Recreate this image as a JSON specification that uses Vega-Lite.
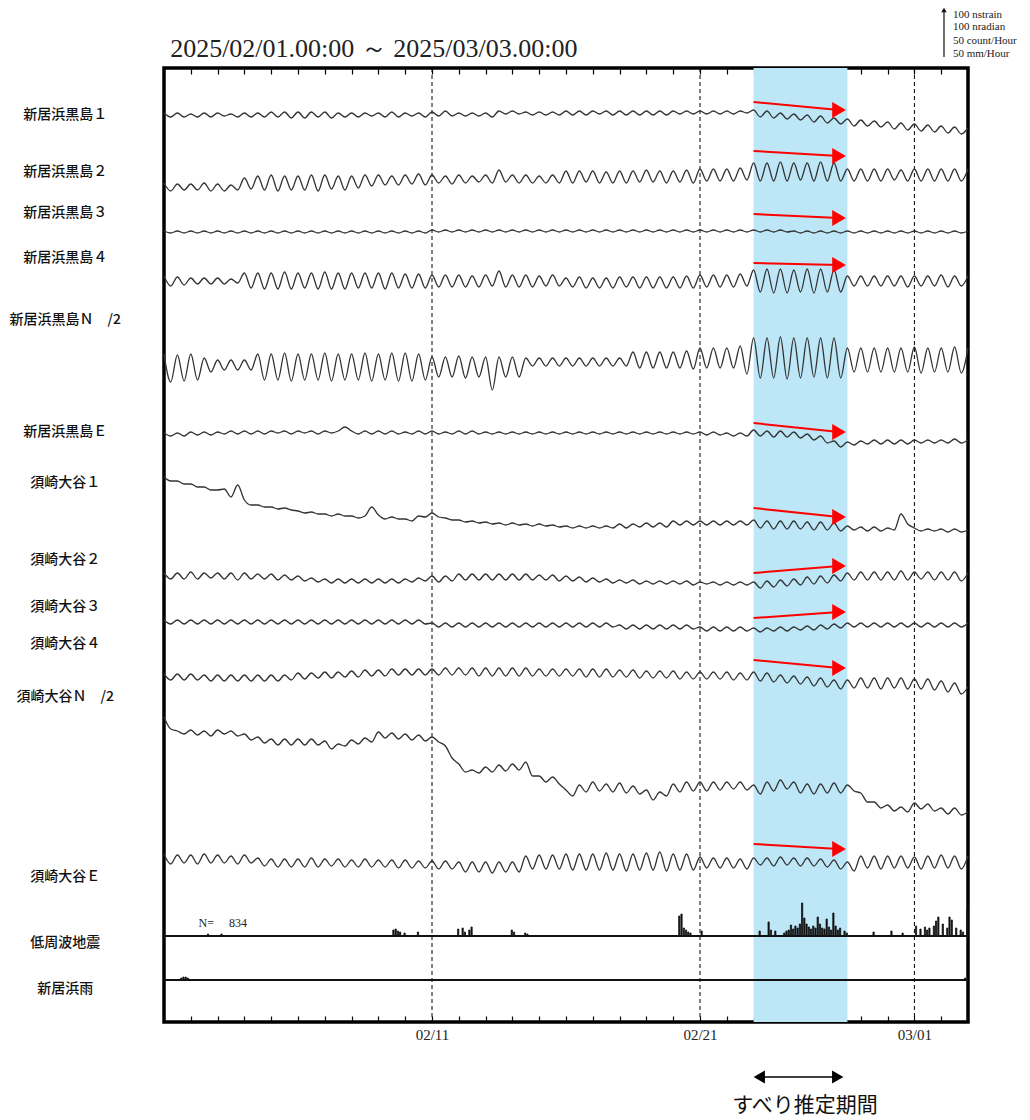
{
"$schema":"https://vega.github.io/schema/vega-lite/v6.json",
"autosize":{"type":"none"},
"padding":{"left":164,"top":68,"right":62,"bottom":98},
"width":804,"height":954,
"background":"white",
"config":{"view":{"stroke":"black","strokeWidth":3.5},"axis":{"grid":false,"domain":false}},
"datasets":{
"series":[
{"t":"2025-02-01T00:00","a":909,"b":839,"c":791,"d":746,"e":668,"f":589,"g":545,"h":449,"i":402,"j":348,"k":305,"l":168},
{"t":"2025-02-01T06:00","a":905,"b":831,"c":789,"d":736,"e":640,"f":586,"g":541,"h":443,"i":398,"j":342,"k":293,"l":158},
{"t":"2025-02-01T12:00","a":909,"b":838,"c":791,"d":745,"e":667,"f":589,"g":541,"h":449,"i":402,"j":348,"k":291,"l":167},
{"t":"2025-02-01T18:00","a":905,"b":832,"c":789,"d":737,"e":641,"f":586,"g":538,"h":443,"i":398,"j":342,"k":288,"l":159},
{"t":"2025-02-02T00:00","a":908,"b":838,"c":791,"d":744,"e":668,"f":590,"g":538,"h":450,"i":402,"j":348,"k":292,"l":167},
{"t":"2025-02-02T06:00","a":905,"b":832,"c":789,"d":738,"e":642,"f":587,"g":535,"h":443,"i":398,"j":342,"k":287,"l":158},
{"t":"2025-02-02T12:00","a":909,"b":839,"c":791,"d":744,"e":664,"f":590,"g":535,"h":449,"i":402,"j":347,"k":291,"l":168},
{"t":"2025-02-02T18:00","a":905,"b":831,"c":789,"d":738,"e":650,"f":587,"g":532,"h":444,"i":398,"j":341,"k":286,"l":159},
{"t":"2025-02-03T00:00","a":909,"b":838,"c":791,"d":744,"e":662,"f":590,"g":532,"h":449,"i":402,"j":347,"k":292,"l":167},
{"t":"2025-02-03T06:00","a":906,"b":831,"c":789,"d":738,"e":652,"f":588,"g":533,"h":443,"i":398,"j":341,"k":288,"l":159},
{"t":"2025-02-03T12:00","a":908,"b":837,"c":791,"d":743,"e":662,"f":591,"g":525,"h":449,"i":402,"j":347,"k":291,"l":166},
{"t":"2025-02-03T18:00","a":905,"b":832,"c":789,"d":739,"e":652,"f":588,"g":537,"h":442,"i":398,"j":341,"k":286,"l":158},
{"t":"2025-02-04T00:00","a":909,"b":844,"c":791,"d":749,"e":662,"f":591,"g":522,"h":449,"i":402,"j":347,"k":288,"l":167},
{"t":"2025-02-04T06:00","a":905,"b":833,"c":789,"d":734,"e":652,"f":588,"g":517,"h":443,"i":398,"j":341,"k":282,"l":159},
{"t":"2025-02-04T12:00","a":909,"b":846,"c":791,"d":749,"e":668,"f":591,"g":517,"h":448,"i":402,"j":347,"k":285,"l":164},
{"t":"2025-02-04T18:00","a":905,"b":832,"c":789,"d":733,"e":642,"f":588,"g":515,"h":443,"i":398,"j":341,"k":279,"l":156},
{"t":"2025-02-05T00:00","a":910,"b":847,"c":791,"d":749,"e":668,"f":591,"g":515,"h":448,"i":402,"j":347,"k":283,"l":163},
{"t":"2025-02-05T06:00","a":905,"b":831,"c":789,"d":733,"e":642,"f":589,"g":513,"h":442,"i":398,"j":341,"k":277,"l":155},
{"t":"2025-02-05T12:00","a":910,"b":846,"c":791,"d":750,"e":669,"f":591,"g":514,"h":447,"i":402,"j":347,"k":283,"l":163},
{"t":"2025-02-05T18:00","a":904,"b":832,"c":789,"d":733,"e":641,"f":588,"g":512,"h":442,"i":398,"j":342,"k":277,"l":155},
{"t":"2025-02-06T00:00","a":910,"b":846,"c":791,"d":749,"e":668,"f":591,"g":511,"h":446,"i":402,"j":349,"k":283,"l":163},
{"t":"2025-02-06T06:00","a":904,"b":832,"c":789,"d":734,"e":642,"f":589,"g":509,"h":441,"i":398,"j":343,"k":277,"l":155},
{"t":"2025-02-06T12:00","a":910,"b":847,"c":791,"d":749,"e":668,"f":591,"g":510,"h":444,"i":402,"j":349,"k":283,"l":164},
{"t":"2025-02-06T18:00","a":905,"b":831,"c":789,"d":733,"e":642,"f":588,"g":508,"h":440,"i":398,"j":344,"k":277,"l":155},
{"t":"2025-02-07T00:00","a":910,"b":847,"c":791,"d":750,"e":669,"f":591,"g":508,"h":443,"i":402,"j":350,"k":281,"l":163},
{"t":"2025-02-07T06:00","a":904,"b":833,"c":789,"d":733,"e":641,"f":589,"g":506,"h":439,"i":398,"j":344,"k":273,"l":156},
{"t":"2025-02-07T12:00","a":909,"b":846,"c":791,"d":749,"e":668,"f":591,"g":508,"h":443,"i":402,"j":350,"k":278,"l":163},
{"t":"2025-02-07T18:00","a":905,"b":832,"c":789,"d":733,"e":642,"f":595,"g":506,"h":439,"i":398,"j":345,"k":276,"l":155},
{"t":"2025-02-08T00:00","a":909,"b":846,"c":791,"d":749,"e":668,"f":591,"g":506,"h":443,"i":402,"j":351,"k":282,"l":162},
{"t":"2025-02-08T06:00","a":905,"b":834,"c":789,"d":734,"e":642,"f":588,"g":504,"h":439,"i":398,"j":345,"k":278,"l":155},
{"t":"2025-02-08T12:00","a":909,"b":847,"c":791,"d":749,"e":669,"f":591,"g":506,"h":443,"i":402,"j":352,"k":284,"l":163},
{"t":"2025-02-08T18:00","a":906,"b":836,"c":789,"d":734,"e":641,"f":588,"g":515,"h":439,"i":398,"j":346,"k":280,"l":155},
{"t":"2025-02-09T00:00","a":909,"b":847,"c":791,"d":749,"e":668,"f":591,"g":507,"h":443,"i":402,"j":352,"k":290,"l":162},
{"t":"2025-02-09T06:00","a":905,"b":837,"c":789,"d":733,"e":642,"f":588,"g":503,"h":439,"i":398,"j":346,"k":284,"l":155},
{"t":"2025-02-09T12:00","a":910,"b":846,"c":791,"d":749,"e":669,"f":591,"g":505,"h":443,"i":402,"j":353,"k":289,"l":162},
{"t":"2025-02-09T18:00","a":905,"b":837,"c":789,"d":734,"e":641,"f":588,"g":503,"h":439,"i":398,"j":347,"k":283,"l":154},
{"t":"2025-02-10T00:00","a":909,"b":847,"c":791,"d":748,"e":669,"f":590,"g":503,"h":443,"i":402,"j":353,"k":288,"l":162},
{"t":"2025-02-10T06:00","a":906,"b":838,"c":789,"d":734,"e":641,"f":588,"g":501,"h":440,"i":398,"j":347,"k":282,"l":154},
{"t":"2025-02-10T12:00","a":909,"b":848,"c":791,"d":748,"e":668,"f":591,"g":506,"h":444,"i":402,"j":353,"k":287,"l":161},
{"t":"2025-02-10T18:00","a":905,"b":837,"c":789,"d":734,"e":642,"f":588,"g":505,"h":441,"i":398,"j":347,"k":281,"l":154},
{"t":"2025-02-11T00:00","a":910,"b":847,"c":792,"d":747,"e":665,"f":591,"g":509,"h":446,"i":399,"j":353,"k":285,"l":161},
{"t":"2025-02-11T06:00","a":906,"b":839,"c":790,"d":735,"e":645,"f":588,"g":505,"h":440,"i":395,"j":347,"k":280,"l":153},
{"t":"2025-02-11T12:00","a":911,"b":846,"c":792,"d":747,"e":665,"f":590,"g":504,"h":446,"i":399,"j":354,"k":276,"l":161},
{"t":"2025-02-11T18:00","a":906,"b":838,"c":790,"d":735,"e":645,"f":588,"g":502,"h":441,"i":395,"j":347,"k":264,"l":153},
{"t":"2025-02-12T00:00","a":909,"b":847,"c":792,"d":747,"e":666,"f":591,"g":502,"h":448,"i":399,"j":354,"k":258,"l":160},
{"t":"2025-02-12T06:00","a":906,"b":839,"c":790,"d":735,"e":644,"f":588,"g":500,"h":442,"i":395,"j":347,"k":250,"l":150},
{"t":"2025-02-12T12:00","a":909,"b":846,"c":792,"d":746,"e":665,"f":591,"g":501,"h":448,"i":399,"j":354,"k":252,"l":160},
{"t":"2025-02-12T18:00","a":906,"b":840,"c":790,"d":735,"e":645,"f":588,"g":499,"h":442,"i":395,"j":346,"k":249,"l":150},
{"t":"2025-02-13T00:00","a":909,"b":847,"c":792,"d":747,"e":665,"f":590,"g":500,"h":448,"i":399,"j":354,"k":255,"l":160},
{"t":"2025-02-13T06:00","a":905,"b":839,"c":790,"d":736,"e":632,"f":588,"g":498,"h":442,"i":395,"j":346,"k":250,"l":149},
{"t":"2025-02-13T12:00","a":911,"b":852,"c":792,"d":751,"e":665,"f":590,"g":499,"h":448,"i":399,"j":354,"k":257,"l":160},
{"t":"2025-02-13T18:00","a":908,"b":840,"c":790,"d":735,"e":645,"f":588,"g":497,"h":442,"i":395,"j":346,"k":251,"l":150},
{"t":"2025-02-14T00:00","a":911,"b":847,"c":792,"d":747,"e":665,"f":590,"g":499,"h":448,"i":399,"j":354,"k":258,"l":160},
{"t":"2025-02-14T06:00","a":908,"b":839,"c":790,"d":735,"e":645,"f":588,"g":497,"h":442,"i":395,"j":346,"k":252,"l":150},
{"t":"2025-02-14T12:00","a":910,"b":847,"c":792,"d":747,"e":664,"f":590,"g":498,"h":448,"i":399,"j":354,"k":260,"l":166},
{"t":"2025-02-14T18:00","a":907,"b":839,"c":790,"d":735,"e":656,"f":588,"g":496,"h":442,"i":395,"j":346,"k":246,"l":153},
{"t":"2025-02-15T00:00","a":910,"b":846,"c":792,"d":746,"e":664,"f":590,"g":498,"h":447,"i":399,"j":353,"k":246,"l":167},
{"t":"2025-02-15T06:00","a":907,"b":839,"c":790,"d":736,"e":656,"f":588,"g":496,"h":442,"i":395,"j":346,"k":240,"l":153},
{"t":"2025-02-15T12:00","a":910,"b":847,"c":792,"d":747,"e":664,"f":590,"g":497,"h":447,"i":399,"j":353,"k":245,"l":167},
{"t":"2025-02-15T18:00","a":907,"b":839,"c":790,"d":736,"e":656,"f":588,"g":495,"h":441,"i":395,"j":346,"k":238,"l":153},
{"t":"2025-02-16T00:00","a":911,"b":851,"c":792,"d":744,"e":664,"f":590,"g":496,"h":446,"i":399,"j":353,"k":232,"l":168},
{"t":"2025-02-16T06:00","a":907,"b":839,"c":790,"d":735,"e":656,"f":588,"g":494,"h":441,"i":395,"j":346,"k":226,"l":152},
{"t":"2025-02-16T12:00","a":911,"b":851,"c":792,"d":745,"e":664,"f":590,"g":496,"h":445,"i":399,"j":353,"k":237,"l":168},
{"t":"2025-02-16T18:00","a":907,"b":840,"c":790,"d":734,"e":656,"f":588,"g":494,"h":440,"i":395,"j":345,"k":230,"l":152},
{"t":"2025-02-17T00:00","a":911,"b":851,"c":792,"d":744,"e":664,"f":590,"g":496,"h":444,"i":399,"j":353,"k":240,"l":168},
{"t":"2025-02-17T06:00","a":908,"b":839,"c":790,"d":734,"e":656,"f":588,"g":494,"h":440,"i":395,"j":345,"k":231,"l":152},
{"t":"2025-02-17T12:00","a":911,"b":850,"c":792,"d":744,"e":664,"f":590,"g":496,"h":443,"i":399,"j":353,"k":238,"l":169},
{"t":"2025-02-17T18:00","a":907,"b":839,"c":790,"d":734,"e":656,"f":588,"g":494,"h":439,"i":395,"j":345,"k":230,"l":152},
{"t":"2025-02-18T00:00","a":911,"b":851,"c":792,"d":745,"e":664,"f":590,"g":498,"h":442,"i":397,"j":352,"k":239,"l":168},
{"t":"2025-02-18T06:00","a":907,"b":839,"c":790,"d":735,"e":656,"f":588,"g":494,"h":439,"i":393,"j":345,"k":229,"l":151},
{"t":"2025-02-18T12:00","a":911,"b":851,"c":792,"d":745,"e":670,"f":590,"g":498,"h":442,"i":397,"j":352,"k":236,"l":168},
{"t":"2025-02-18T18:00","a":907,"b":840,"c":790,"d":734,"e":654,"f":588,"g":495,"h":438,"i":393,"j":344,"k":228,"l":152},
{"t":"2025-02-19T00:00","a":911,"b":852,"c":792,"d":745,"e":670,"f":590,"g":499,"h":441,"i":397,"j":351,"k":232,"l":169},
{"t":"2025-02-19T06:00","a":907,"b":840,"c":790,"d":734,"e":654,"f":588,"g":495,"h":438,"i":393,"j":344,"k":222,"l":152},
{"t":"2025-02-19T12:00","a":911,"b":851,"c":792,"d":745,"e":670,"f":590,"g":499,"h":441,"i":397,"j":351,"k":230,"l":170},
{"t":"2025-02-19T18:00","a":907,"b":839,"c":790,"d":734,"e":654,"f":588,"g":495,"h":438,"i":393,"j":344,"k":226,"l":151},
{"t":"2025-02-20T00:00","a":911,"b":851,"c":792,"d":745,"e":670,"f":590,"g":501,"h":441,"i":397,"j":351,"k":238,"l":168},
{"t":"2025-02-20T06:00","a":908,"b":840,"c":790,"d":734,"e":654,"f":588,"g":497,"h":438,"i":393,"j":343,"k":230,"l":152},
{"t":"2025-02-20T12:00","a":911,"b":852,"c":792,"d":746,"e":671,"f":590,"g":501,"h":441,"i":397,"j":350,"k":240,"l":168},
{"t":"2025-02-20T18:00","a":908,"b":839,"c":790,"d":734,"e":653,"f":588,"g":497,"h":437,"i":393,"j":343,"k":231,"l":152},
{"t":"2025-02-21T00:00","a":911,"b":853,"c":792,"d":747,"e":674,"f":590,"g":501,"h":440,"i":395,"j":350,"k":240,"l":165},
{"t":"2025-02-21T06:00","a":908,"b":841,"c":790,"d":735,"e":654,"f":587,"g":497,"h":438,"i":391,"j":343,"k":231,"l":154},
{"t":"2025-02-21T12:00","a":911,"b":853,"c":792,"d":747,"e":674,"f":590,"g":501,"h":440,"i":395,"j":350,"k":240,"l":164},
{"t":"2025-02-21T18:00","a":908,"b":841,"c":790,"d":735,"e":654,"f":587,"g":497,"h":437,"i":391,"j":343,"k":232,"l":154},
{"t":"2025-02-22T00:00","a":911,"b":853,"c":792,"d":747,"e":674,"f":589,"g":501,"h":440,"i":395,"j":350,"k":240,"l":164},
{"t":"2025-02-22T06:00","a":908,"b":841,"c":790,"d":735,"e":654,"f":586,"g":497,"h":437,"i":391,"j":342,"k":233,"l":154},
{"t":"2025-02-22T12:00","a":911,"b":854,"c":792,"d":748,"e":676,"f":589,"g":501,"h":440,"i":395,"j":349,"k":240,"l":163},
{"t":"2025-02-22T18:00","a":909,"b":842,"c":790,"d":736,"e":648,"f":586,"g":497,"h":437,"i":391,"j":342,"k":232,"l":153},
{"t":"2025-02-23T00:00","a":912,"b":859,"c":792,"d":752,"e":684,"f":592,"g":502,"h":440,"i":394,"j":350,"k":237,"l":164},
{"t":"2025-02-23T06:00","a":905,"b":841,"c":790,"d":730,"e":644,"f":586,"g":494,"h":434,"i":390,"j":341,"k":228,"l":157},
{"t":"2025-02-23T12:00","a":911,"b":859,"c":792,"d":753,"e":684,"f":591,"g":501,"h":441,"i":394,"j":349,"k":240,"l":164},
{"t":"2025-02-23T18:00","a":904,"b":841,"c":790,"d":729,"e":644,"f":585,"g":493,"h":435,"i":391,"j":340,"k":231,"l":156},
{"t":"2025-02-24T00:00","a":909,"b":860,"c":792,"d":753,"e":685,"f":591,"g":501,"h":442,"i":395,"j":347,"k":242,"l":165},
{"t":"2025-02-24T06:00","a":903,"b":841,"c":790,"d":729,"e":643,"f":585,"g":493,"h":436,"i":391,"j":339,"k":233,"l":157},
{"t":"2025-02-24T12:00","a":908,"b":859,"c":791,"d":752,"e":684,"f":590,"g":501,"h":443,"i":395,"j":346,"k":240,"l":164},
{"t":"2025-02-24T18:00","a":902,"b":842,"c":789,"d":730,"e":644,"f":584,"g":493,"h":437,"i":392,"j":338,"k":229,"l":156},
{"t":"2025-02-25T00:00","a":907,"b":859,"c":791,"d":753,"e":684,"f":588,"g":500,"h":445,"i":396,"j":345,"k":238,"l":164},
{"t":"2025-02-25T06:00","a":900,"b":841,"c":789,"d":729,"e":645,"f":582,"g":492,"h":438,"i":392,"j":336,"k":228,"l":156},
{"t":"2025-02-25T12:00","a":906,"b":860,"c":791,"d":753,"e":684,"f":586,"g":500,"h":446,"i":397,"j":344,"k":238,"l":163},
{"t":"2025-02-25T18:00","a":899,"b":841,"c":789,"d":730,"e":644,"f":579,"g":492,"h":439,"i":393,"j":335,"k":229,"l":155},
{"t":"2025-02-26T00:00","a":904,"b":859,"c":791,"d":752,"e":684,"f":581,"g":499,"h":447,"i":398,"j":342,"k":239,"l":162},
{"t":"2025-02-26T06:00","a":898,"b":841,"c":789,"d":730,"e":644,"f":575,"g":491,"h":441,"i":394,"j":333,"k":229,"l":153},
{"t":"2025-02-26T12:00","a":903,"b":853,"c":791,"d":746,"e":674,"f":580,"g":496,"h":449,"i":399,"j":342,"k":237,"l":160},
{"t":"2025-02-26T18:00","a":896,"b":841,"c":789,"d":736,"e":650,"f":577,"g":492,"h":442,"i":395,"j":334,"k":231,"l":151},
{"t":"2025-02-27T00:00","a":902,"b":853,"c":791,"d":746,"e":674,"f":581,"g":495,"h":450,"i":399,"j":344,"k":229,"l":166},
{"t":"2025-02-27T06:00","a":896,"b":841,"c":789,"d":736,"e":650,"f":578,"g":491,"h":442,"i":395,"j":334,"k":220,"l":154},
{"t":"2025-02-27T12:00","a":901,"b":853,"c":791,"d":746,"e":674,"f":582,"g":495,"h":450,"i":399,"j":344,"k":220,"l":166},
{"t":"2025-02-27T18:00","a":895,"b":841,"c":789,"d":736,"e":650,"f":578,"g":491,"h":442,"i":395,"j":333,"k":214,"l":153},
{"t":"2025-02-28T00:00","a":900,"b":853,"c":791,"d":746,"e":674,"f":582,"g":494,"h":450,"i":399,"j":344,"k":217,"l":166},
{"t":"2025-02-28T06:00","a":893,"b":842,"c":789,"d":736,"e":650,"f":578,"g":492,"h":442,"i":395,"j":334,"k":211,"l":154},
{"t":"2025-02-28T12:00","a":899,"b":852,"c":791,"d":746,"e":674,"f":582,"g":508,"h":451,"i":399,"j":344,"k":215,"l":166},
{"t":"2025-02-28T18:00","a":892,"b":841,"c":789,"d":735,"e":650,"f":578,"g":498,"h":442,"i":395,"j":333,"k":210,"l":154},
{"t":"2025-03-01T00:00","a":898,"b":853,"c":791,"d":746,"e":675,"f":582,"g":494,"h":450,"i":399,"j":343,"k":219,"l":165},
{"t":"2025-03-01T06:00","a":891,"b":841,"c":789,"d":736,"e":649,"f":579,"g":491,"h":443,"i":395,"j":333,"k":213,"l":153},
{"t":"2025-03-01T12:00","a":897,"b":853,"c":791,"d":746,"e":674,"f":582,"g":493,"h":450,"i":399,"j":343,"k":218,"l":166},
{"t":"2025-03-01T18:00","a":890,"b":841,"c":789,"d":736,"e":650,"f":579,"g":491,"h":442,"i":395,"j":332,"k":211,"l":154},
{"t":"2025-03-02T00:00","a":896,"b":853,"c":791,"d":747,"e":674,"f":582,"g":493,"h":450,"i":399,"j":341,"k":214,"l":167},
{"t":"2025-03-02T06:00","a":889,"b":841,"c":789,"d":735,"e":650,"f":579,"g":490,"h":442,"i":395,"j":330,"k":208,"l":154},
{"t":"2025-03-02T12:00","a":895,"b":853,"c":791,"d":746,"e":675,"f":583,"g":493,"h":450,"i":399,"j":339,"k":214,"l":166},
{"t":"2025-03-02T18:00","a":888,"b":841,"c":789,"d":736,"e":649,"f":579,"g":490,"h":441,"i":395,"j":328,"k":207,"l":153},
{"t":"2025-03-03T00:00","a":894,"b":853,"c":791,"d":746,"e":674,"f":582,"g":492,"h":449,"i":399,"j":335,"k":210,"l":166}
],
"eq":[
{"t":"2025-02-02T14:00","c":2},{"t":"2025-02-03T02:00","c":2},
{"t":"2025-02-09T12:00","c":6},{"t":"2025-02-09T14:00","c":7},{"t":"2025-02-09T16:00","c":5},{"t":"2025-02-09T18:00","c":4},{"t":"2025-02-09T22:00","c":3},
{"t":"2025-02-10T10:00","c":4},
{"t":"2025-02-11T22:00","c":7},{"t":"2025-02-12T02:00","c":8},{"t":"2025-02-12T04:00","c":4},{"t":"2025-02-12T08:00","c":6},{"t":"2025-02-12T10:00","c":9},
{"t":"2025-02-13T22:00","c":6},{"t":"2025-02-14T00:00","c":4},{"t":"2025-02-14T10:00","c":3},{"t":"2025-02-14T12:00","c":2},
{"t":"2025-02-20T04:00","c":20},{"t":"2025-02-20T06:00","c":22},{"t":"2025-02-20T08:00","c":8},{"t":"2025-02-20T10:00","c":6},{"t":"2025-02-20T12:00","c":4},{"t":"2025-02-20T14:00","c":3},
{"t":"2025-02-21T00:00","c":5},
{"t":"2025-02-23T04:00","c":5},{"t":"2025-02-23T12:00","c":14},{"t":"2025-02-23T14:00","c":6},{"t":"2025-02-23T18:00","c":5},
{"t":"2025-02-24T02:00","c":3},{"t":"2025-02-24T04:00","c":5},{"t":"2025-02-24T06:00","c":6},{"t":"2025-02-24T08:00","c":11},{"t":"2025-02-24T10:00","c":7},{"t":"2025-02-24T12:00","c":10},{"t":"2025-02-24T14:00","c":8},{"t":"2025-02-24T16:00","c":12},{"t":"2025-02-24T18:00","c":33},{"t":"2025-02-24T20:00","c":18},{"t":"2025-02-24T22:00","c":12},
{"t":"2025-02-25T00:00","c":9},{"t":"2025-02-25T02:00","c":7},{"t":"2025-02-25T04:00","c":10},{"t":"2025-02-25T06:00","c":8},{"t":"2025-02-25T08:00","c":19},{"t":"2025-02-25T10:00","c":12},{"t":"2025-02-25T12:00","c":8},{"t":"2025-02-25T14:00","c":7},{"t":"2025-02-25T16:00","c":17},{"t":"2025-02-25T18:00","c":9},{"t":"2025-02-25T20:00","c":6},{"t":"2025-02-25T22:00","c":23},
{"t":"2025-02-26T00:00","c":10},{"t":"2025-02-26T02:00","c":6},{"t":"2025-02-26T04:00","c":8},{"t":"2025-02-26T08:00","c":5},{"t":"2025-02-26T10:00","c":3},
{"t":"2025-02-27T10:00","c":4},{"t":"2025-02-28T02:00","c":5},{"t":"2025-02-28T12:00","c":3},
{"t":"2025-03-01T00:00","c":10},{"t":"2025-03-01T04:00","c":7},{"t":"2025-03-01T08:00","c":9},{"t":"2025-03-01T10:00","c":6},{"t":"2025-03-01T12:00","c":8},{"t":"2025-03-01T16:00","c":10},{"t":"2025-03-01T18:00","c":15},{"t":"2025-03-01T20:00","c":19},
{"t":"2025-03-02T00:00","c":12},{"t":"2025-03-02T04:00","c":8},{"t":"2025-03-02T06:00","c":19},{"t":"2025-03-02T08:00","c":16},{"t":"2025-03-02T12:00","c":8},{"t":"2025-03-02T16:00","c":6},{"t":"2025-03-02T18:00","c":4},{"t":"2025-03-02T22:00","c":26}
],
"rain":[
{"t":"2025-02-01T14:00","c":2},{"t":"2025-02-01T16:00","c":3},{"t":"2025-02-01T18:00","c":3},{"t":"2025-02-01T20:00","c":2},{"t":"2025-03-02T20:00","c":2}
],
"arrows":[
{"v0":920,"v1":912},{"v0":871,"v1":866},{"v0":808,"v1":804},{"v0":759,"v1":757},{"v0":599,"v1":590},
{"v0":514,"v1":505},{"v0":449,"v1":456},{"v0":404,"v1":410},{"v0":362,"v1":354},{"v0":178,"v1":173}
],
"labels":[
{"name":"新居浜黒島１","ly":907},{"name":"新居浜黒島２","ly":850},{"name":"新居浜黒島３","ly":809},{"name":"新居浜黒島４","ly":764},
{"name":"新居浜黒島Ｎ　/2","ly":702},{"name":"新居浜黒島Ｅ","ly":590},{"name":"須崎大谷１","ly":539},{"name":"須崎大谷２","ly":462},
{"name":"須崎大谷３","ly":415},{"name":"須崎大谷４","ly":378},{"name":"須崎大谷Ｎ　/2","ly":325},{"name":"須崎大谷Ｅ","ly":145},
{"name":"低周波地震","ly":79},{"name":"　　新居浜雨","ly":33}
],
"legend":[
{"line":"100 nstrain","v":1007},{"line":"100 nradian","v":995},{"line":"50 count/Hour","v":981},{"line":"50 mm/Hour","v":968}
]
},
"resolve":{"scale":{"y":"independent"},"axis":{"x":"independent"}},
"layer":[
{"data":{"values":[{"start":"2025-02-23T00:00","end":"2025-02-26T12:00"}]},
 "mark":{"type":"rect","color":"#bde6f7"},
 "encoding":{
  "x":{"field":"start","type":"temporal","scale":{"domain":[{"year":2025,"month":2,"date":1},{"year":2025,"month":3,"date":3}]},
       "axis":{"orient":"top","title":null,"labels":false,"tickCount":{"interval":"day","step":1},"tickSize":-6,"tickColor":"black","tickWidth":1.2}},
  "x2":{"field":"end"}}},
{"data":{"values":[{"t":"2025-02-11T00:00"},{"t":"2025-02-21T00:00"},{"t":"2025-03-01T00:00"}]},
 "mark":{"type":"rule","color":"black","strokeWidth":1,"strokeDash":[4,3]},
 "encoding":{"x":{"field":"t","type":"temporal","axis":null}}},
{"data":{"name":"series"},
 "transform":[{"fold":["a","b","c","d","e","f","g","h","i","j","k","l"],"as":["s","v"]}],
 "mark":{"type":"line","color":"#333","strokeWidth":1.3,"interpolate":"monotone"},
 "encoding":{
  "x":{"field":"t","type":"temporal","scale":{"domain":[{"year":2025,"month":2,"date":1},{"year":2025,"month":3,"date":3}]},
       "axis":{"orient":"bottom","title":null,"tickCount":{"interval":"day","step":1},"tickSize":-6,"tickColor":"black","tickWidth":1.2,
               "labelExpr":"indexof(['02/11','02/21','03/01'], timeFormat(datum.value,'%m/%d')) >= 0 ? timeFormat(datum.value,'%m/%d') : ''",
               "labelFont":"Liberation Serif","labelFontSize":15,"labelColor":"#222","labelPadding":11,"labelOverlap":false,"labelFlush":false}},
  "y":{"field":"v","type":"quantitative","scale":{"domain":[0,954],"zero":false,"nice":false},"axis":null},
  "detail":{"field":"s"}}},
{"data":{"name":"eq"},
 "mark":{"type":"bar","color":"#111","stroke":"#111","strokeWidth":0.8},
 "encoding":{
  "x":{"field":"t","type":"temporal","timeUnit":{"unit":"yearmonthdatehours","step":2},"axis":null},
  "y":{"field":"c","type":"quantitative","scale":{"domain":[-86,868],"zero":false,"nice":false},"axis":null},
  "y2":{"datum":0}}},
{"data":{"values":[{}]},
 "mark":{"type":"rule","color":"#111","strokeWidth":2},
 "encoding":{"y":{"datum":0,"type":"quantitative","scale":{"domain":[-86,868],"zero":false,"nice":false},"axis":null}}},
{"data":{"name":"rain"},
 "mark":{"type":"bar","color":"#111","stroke":"#111","strokeWidth":0.8},
 "encoding":{
  "x":{"field":"t","type":"temporal","timeUnit":{"unit":"yearmonthdatehours","step":2},"axis":null},
  "y":{"field":"c","type":"quantitative","scale":{"domain":[-42,912],"zero":false,"nice":false},"axis":null},
  "y2":{"datum":0}}},
{"data":{"values":[{}]},
 "mark":{"type":"rule","color":"#111","strokeWidth":2},
 "encoding":{"y":{"datum":0,"type":"quantitative","scale":{"domain":[-42,912],"zero":false,"nice":false},"axis":null}}},
{"data":{"name":"arrows"},
 "mark":{"type":"rule","color":"#ff0000","strokeWidth":2},
 "encoding":{
  "x":{"datum":{"year":2025,"month":2,"date":23},"type":"temporal","axis":null},
  "x2":{"datum":{"year":2025,"month":2,"date":26,"hours":4,"minutes":30}},
  "y":{"field":"v0","type":"quantitative","scale":{"domain":[0,954],"zero":false,"nice":false},"axis":null},
  "y2":{"field":"v1"}}},
{"data":{"name":"arrows"},
 "mark":{"type":"point","shape":"triangle-right","filled":true,"color":"#ff0000","opacity":1,"size":250},
 "encoding":{
  "x":{"datum":{"year":2025,"month":2,"date":26,"hours":4,"minutes":30},"type":"temporal","axis":null},
  "y":{"field":"v1","type":"quantitative","scale":{"domain":[0,954],"zero":false,"nice":false},"axis":null}}},
{"data":{"name":"labels"},
 "mark":{"type":"text","font":"Noto Sans CJK JP","fontSize":14,"fontWeight":500,"align":"center","baseline":"middle","color":"#111"},
 "encoding":{
  "x":{"datum":{"year":2025,"month":1,"date":28,"hours":7,"minutes":30},"type":"temporal","axis":null},
  "y":{"field":"ly","type":"quantitative","scale":{"domain":[0,954],"zero":false,"nice":false},"axis":null},
  "text":{"field":"name"}}},
{"data":{"values":[{"txt":"2025/02/01.00:00 ～ 2025/03/03.00:00"}]},
 "mark":{"type":"text","font":"Liberation Serif","fontSize":26,"align":"left","baseline":"alphabetic","color":"#222"},
 "encoding":{
  "x":{"datum":{"year":2025,"month":2,"date":1,"hours":5,"minutes":30},"type":"temporal","axis":null},
  "y":{"datum":965,"type":"quantitative","scale":{"domain":[0,954],"zero":false,"nice":false},"axis":null},
  "text":{"field":"txt"}}},
{"data":{"values":[{"txt":"N=\u00a0\u00a0\u00a0\u00a0\u00a0834"}]},
 "mark":{"type":"text","font":"Liberation Serif","fontSize":12,"align":"left","baseline":"middle","color":"#222"},
 "encoding":{
  "x":{"datum":{"year":2025,"month":2,"date":2,"hours":7},"type":"temporal","axis":null},
  "y":{"datum":99,"type":"quantitative","scale":{"domain":[0,954],"zero":false,"nice":false},"axis":null},
  "text":{"field":"txt"}}},
{"data":{"name":"legend"},
 "mark":{"type":"text","font":"Liberation Serif","fontSize":11,"align":"left","baseline":"middle","color":"#222"},
 "encoding":{
  "x":{"datum":{"year":2025,"month":3,"date":2,"hours":10,"minutes":30},"type":"temporal","axis":null},
  "y":{"field":"v","type":"quantitative","scale":{"domain":[0,954],"zero":false,"nice":false},"axis":null},
  "text":{"field":"line"}}},
{"data":{"values":[{}]},
 "mark":{"type":"rule","color":"#111","strokeWidth":1.2},
 "encoding":{
  "x":{"datum":{"year":2025,"month":3,"date":2,"hours":2,"minutes":30},"type":"temporal","axis":null},
  "y":{"datum":965,"type":"quantitative","scale":{"domain":[0,954],"zero":false,"nice":false},"axis":null},
  "y2":{"datum":1010}}},
{"data":{"values":[{}]},
 "mark":{"type":"point","shape":"triangle-up","filled":true,"color":"#111","opacity":1,"size":30},
 "encoding":{
  "x":{"datum":{"year":2025,"month":3,"date":2,"hours":2,"minutes":30},"type":"temporal","axis":null},
  "y":{"datum":1012,"type":"quantitative","scale":{"domain":[0,954],"zero":false,"nice":false},"axis":null}}},
{"data":{"values":[{}]},
 "mark":{"type":"rule","color":"#000","strokeWidth":1.5},
 "encoding":{
  "x":{"datum":{"year":2025,"month":2,"date":23,"hours":5},"type":"temporal","axis":null},
  "x2":{"datum":{"year":2025,"month":2,"date":26,"hours":3,"minutes":20}},
  "y":{"datum":-55,"type":"quantitative","scale":{"domain":[0,954],"zero":false,"nice":false},"axis":null}}},
{"data":{"values":[{"sh":"triangle-left","tt":"2025-02-23T05:05"},{"sh":"triangle-right","tt":"2025-02-26T03:20"}]},
 "mark":{"type":"point","filled":true,"color":"#000","opacity":1,"size":170},
 "encoding":{
  "x":{"field":"tt","type":"temporal","axis":null},
  "y":{"datum":-55,"type":"quantitative","scale":{"domain":[0,954],"zero":false,"nice":false},"axis":null},
  "shape":{"field":"sh","type":"nominal","scale":null,"legend":null}}},
{"data":{"values":[{"txt":"すべり推定期間"}]},
 "mark":{"type":"text","font":"Noto Sans CJK JP","fontSize":21,"align":"center","baseline":"middle","color":"#111"},
 "encoding":{
  "x":{"datum":{"year":2025,"month":2,"date":24,"hours":22},"type":"temporal","axis":null},
  "y":{"datum":-84,"type":"quantitative","scale":{"domain":[0,954],"zero":false,"nice":false},"axis":null},
  "text":{"field":"txt"}}}
]
}
